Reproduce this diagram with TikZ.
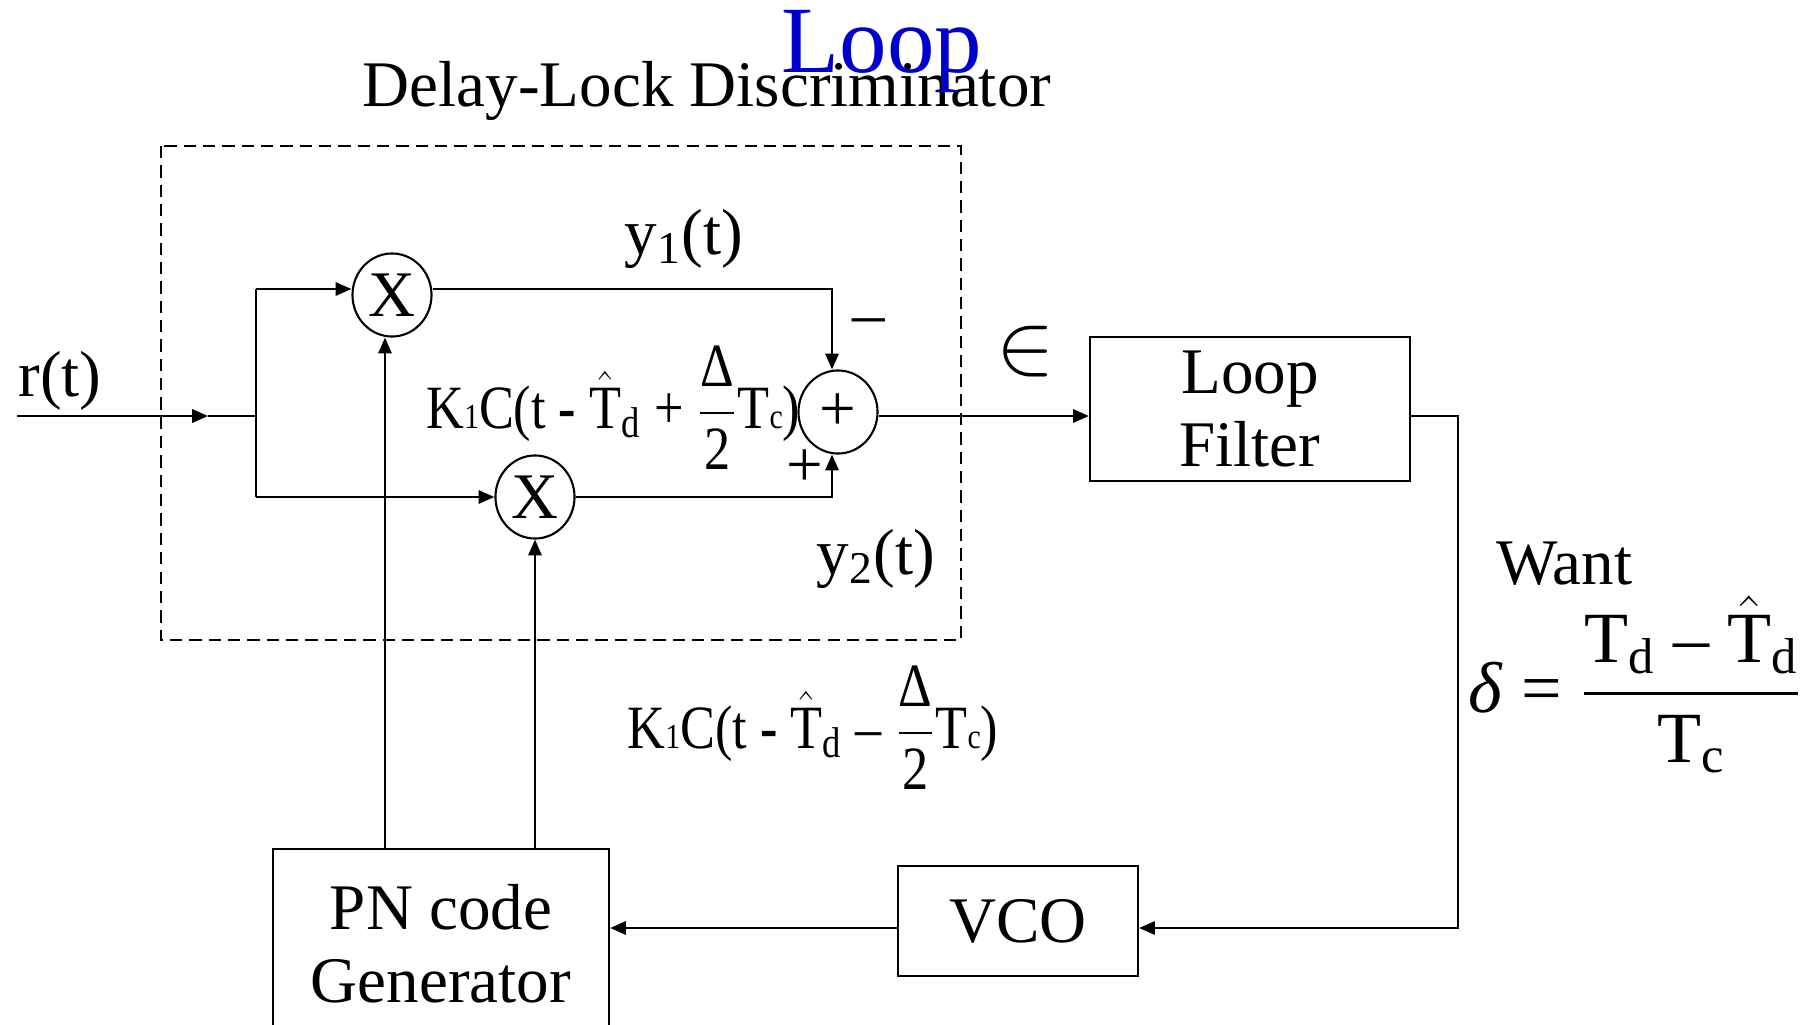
\documentclass[tikz,border=0pt]{standalone}
\usepackage{fontspec}
\setmainfont{Liberation Serif}
\usepackage{amsmath}
\usepackage{graphicx}
\usetikzlibrary{arrows.meta,positioning,shapes.geometric}
\definecolor{loopblue}{RGB}{0,0,204}
\newcommand{\dlfont}{\fontsize{18.5}{20.7}\selectfont}
\newcommand{\loopfont}{\fontsize{27}{30}\selectfont}
\newcommand{\eqfont}{\fontsize{17.5}{20}\selectfont}
\newcommand{\deltafont}{\fontsize{20.5}{23}\selectfont}
\newcommand{\smallsub}[1]{{\fontsize{10}{10}\selectfont #1}}
\tikzset{
  blk/.style={rectangle, draw=black, line width=0.6pt, align=center, font=\dlfont, inner sep=0pt},
  mixer/.style={ellipse, draw=black, line width=0.6pt, minimum width=0.79cm,
    minimum height=0.83cm, inner sep=0pt, font=\dlfont},
  lbl/.style={font=\dlfont, inner sep=0pt},
  flow/.style={-{Triangle[length=4.5pt,width=3.8pt]}, line width=0.6pt},
  wire/.style={line width=0.6pt},
  dbox/.style={line width=0.6pt, dash pattern=on 3.5pt off 2pt},
}

\begin{document}
\begin{tikzpicture}[x=0.01cm, y=-0.01cm]
  \useasboundingbox (0,0) rectangle (1812,1024);
  \clip (0,0) rectangle (1812,1024);
  \draw[dbox] (161,146) rectangle (961,640);
  \node[lbl, anchor=base] (title) at (707,106) {Delay-Lock Discriminator};
  \node[lbl, font=\loopfont, text=loopblue, anchor=base] (loop) at (882,72) {Loop};

  \node[mixer] (uX) at (392,295) {X};
  \node[mixer] (lX) at (535,497) {X};
  \node[mixer] (sum) at (838,412) {+};
  \node[blk, minimum width=3.2cm, minimum height=1.44cm] (lf) at (1250,409) {Loop\\Filter};
  \node[blk, minimum width=2.4cm, minimum height=1.1cm] (vco) at (1018,921) {VCO};
  \node[blk, minimum width=3.36cm, minimum height=1.9cm] (pn) at (441,944) {PN code\\Generator};

  \coordinate (rin) at (17,416);
  \coordinate (rtip) at (208,416);
  \coordinate (split) at (256,416);
  \coordinate (splitT) at (256,289);
  \coordinate (splitB) at (256,497);
  \coordinate (sumT) at (832,289);
  \coordinate (sumB) at (832,497);
  \coordinate (sumO) at (876,416);
  \coordinate (fbB) at (1458,928);

  \node[lbl, anchor=base] (rt) at (60,396) {r(t)};
  \node[lbl, anchor=base] (y1) at (684,254) {y\textsubscript{1}(t)};
  \node[lbl, anchor=base] (y2) at (876,574) {y\textsubscript{2}(t)};
  \node[lbl] (minus) at (869,327) {–};
  \node[lbl] (plus) at (805,468) {+};
  \node[lbl, font=\fontsize{23}{23}\selectfont] (err) at (1026,352) {$\in$};
  \node[lbl, font=\eqfont, anchor=base east] (cplus) at (801,428)
    {\scalebox{0.85}[1]{K\smallsub{1}C(t {\bfseries -} $\hat{\textrm{T}}$\textsubscript{d} + $\dfrac{\textrm{Δ}}{\textrm{2}}$T\smallsub{c})}};
  \node[lbl, font=\eqfont, anchor=base west] (cminus) at (627,748)
    {\scalebox{0.85}[1]{K\smallsub{1}C(t {\bfseries -} $\hat{\textrm{T}}$\textsubscript{d} – $\dfrac{\textrm{Δ}}{\textrm{2}}$T\smallsub{c})}};
  \node[lbl, anchor=base west] (want) at (1496,584) {Want};
  \node[lbl, font=\deltafont, anchor=base west] (delta) at (1468,712)
    {\textit{δ} = $\dfrac{\textrm{T\textsubscript{d} – $\hat{\textrm{T}}$\textsubscript{d}}}{\textrm{T\textsubscript{c}}}$};

  \draw[flow] (rin) -- (rtip);
  \draw[wire] (rtip) -- (split);
  \draw[wire] (splitT) -- (splitB);
  \draw[flow] (splitT) -- (splitT -| uX.west);
  \draw[flow] (splitB) -- (lX);
  \draw[flow] (splitT -| uX.east) -- (sumT) -- (sumT |- sum.north);
  \draw[flow] (lX) -- (sumB) -- (sumB |- sum.south);
  \draw[flow] (sumO -| sum.east) -- (sumO -| lf.west);
  \draw[flow] (sumO -| lf.east) -| (fbB) -- (fbB -| vco.east);
  \draw[flow] (fbB -| vco.west) -- (fbB -| pn.east);
  \draw[flow] (pn.north -| 385,0) -- (uX.south -| 385,0);
  \draw[flow] (pn.north -| lX) -- (lX);
\end{tikzpicture}
\end{document}
